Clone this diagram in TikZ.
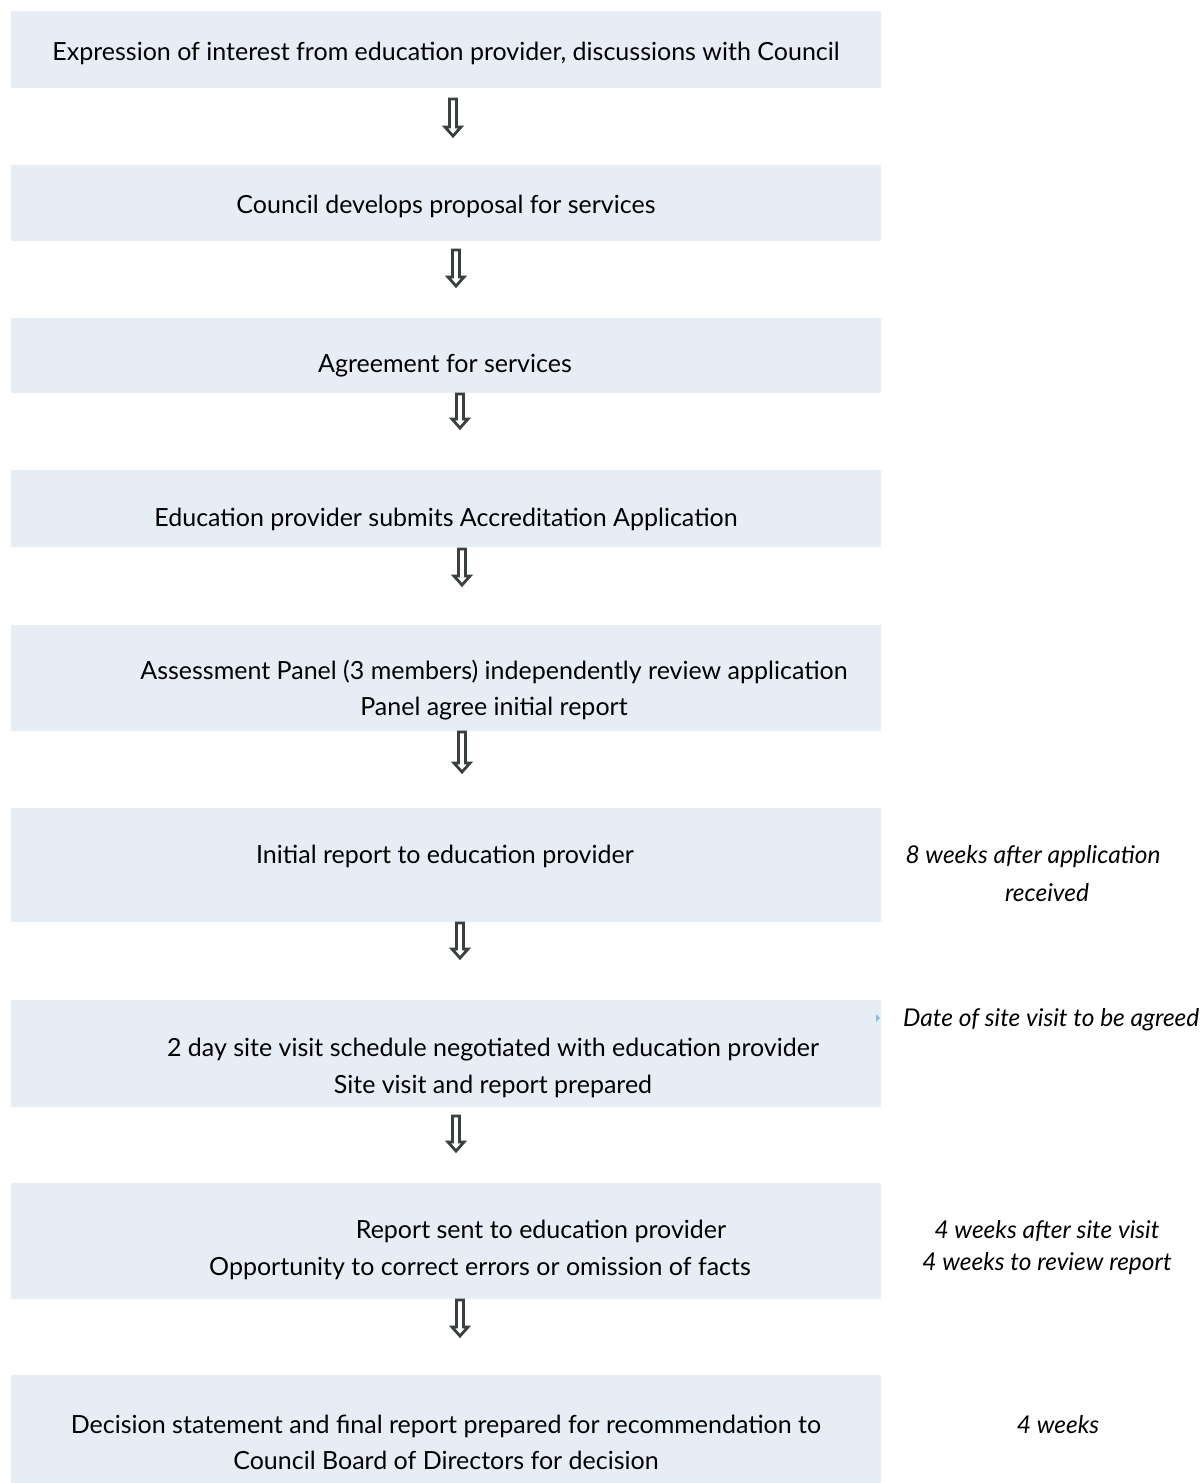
\documentclass[tikz,border=0pt]{standalone}
\usepackage{fontspec}
\setmainfont{Lato}
\definecolor{boxfill}{HTML}{E6EDF4}
\definecolor{arrowgray}{HTML}{3A3F3F}
\definecolor{bulletblue}{HTML}{8DB9D3}
\begin{document}
\begin{tikzpicture}[x=1pt,y=-1pt,
  stage/.style={fill=boxfill, draw=none, inner sep=0, minimum width=870pt},
  label/.style={font=\fontsize{25}{30}\selectfont, anchor=base, inner sep=0},
  note/.style={font=\fontsize{24.5}{29}\selectfont\itshape, anchor=base, inner sep=0},
  flowarrow/.style={draw=arrowgray, line width=2.8pt, fill=white, line join=miter},
  pics/hollowarrow/.style={code={\path[flowarrow] (-3.5,0) -- (3.5,0) -- (3.5,#1-10) -- (8,#1-10) -- (0,#1-1) -- (-8,#1-10) -- (-3.5,#1-10) -- cycle;}}]
\useasboundingbox (0,0) rectangle (1202,1483);
% boxes
\node[stage, minimum height=77pt]  (b1) at (446,49.5) {};
\node[stage, minimum height=76pt]  (b2) at (446,203) {};
\node[stage, minimum height=75pt]  (b3) at (446,355.5) {};
\node[stage, minimum height=77pt]  (b4) at (446,508.5) {};
\node[stage, minimum height=106pt] (b5) at (446,678) {};
\node[stage, minimum height=114pt] (b6) at (446,865) {};
\node[stage, minimum height=107pt] (b7) at (446,1053.5) {};
\node[stage, minimum height=116pt] (b8) at (446,1241) {};
\node[stage, minimum height=108pt] (b9) at (446,1429) {};
% box texts
\node[label] (t1) at (446,60) {Expression of interest from education provider, discussions with Council};
\node[label] (t2) at (446,213) {Council develops proposal for services};
\node[label] (t3) at (445,372) {Agreement for services};
\node[label] (t4) at (446,526) {Education provider submits Accreditation Application};
\node[label] (t5a) at (494,679) {Assessment Panel (3 members) independently review application};
\node[label] (t5b) at (494,715) {Panel agree initial report};
\node[label] (t6) at (445,863) {Initial report to education provider};
\node[label] (t7a) at (493,1056) {2 day site visit schedule negotiated with education provider};
\node[label] (t7b) at (493,1093) {Site visit and report prepared};
\node[label] (t8a) at (541,1238) {Report sent to education provider};
\node[label] (t8b) at (480,1275) {Opportunity to correct errors or omission of facts};
\node[label] (t9a) at (446,1433) {Decision statement and final report prepared for recommendation to};
\node[label] (t9b) at (446,1469) {Council Board of Directors for decision};
% notes
\node[note] (n1a) at (1033,863) {8 weeks after application};
\node[note] (n1b) at (1047,901) {received};
\node[note, anchor=base west] (n2) at (903,1026) {Date of site visit to be agreed};
\fill[bulletblue] (876,1014) -- (880,1018) -- (876,1022) -- cycle;
\node[note] (n3a) at (1047,1238) {4 weeks after site visit};
\node[note] (n3b) at (1047,1270) {4 weeks to review report};
\node[note] (n4) at (1058,1433) {4 weeks};
% arrows
\pic at (453,99)   {hollowarrow=38};
\pic at (456,250)  {hollowarrow=37};
\pic at (460,394)  {hollowarrow=35};
\pic at (462,549)  {hollowarrow=37};
\pic at (462,732)  {hollowarrow=41};
\pic at (460,923)  {hollowarrow=36};
\pic at (456,1116) {hollowarrow=36};
\pic at (460,1300) {hollowarrow=37};
\end{tikzpicture}
\end{document}
